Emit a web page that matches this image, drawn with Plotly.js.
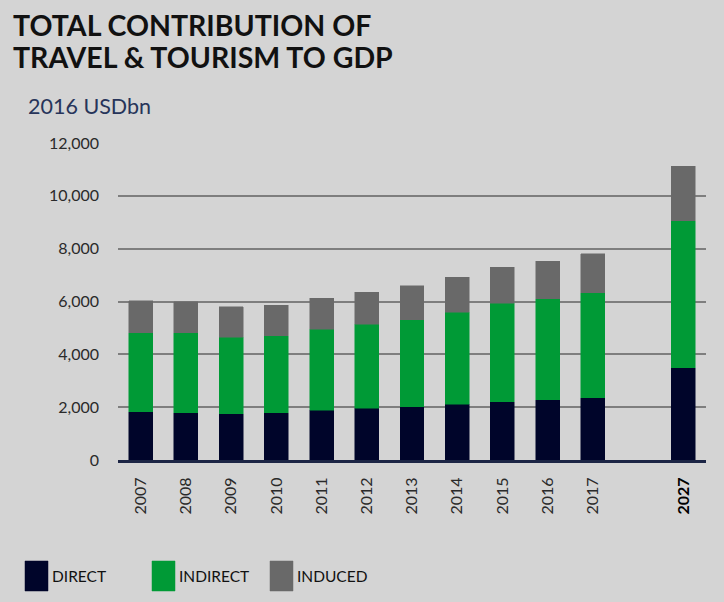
<!DOCTYPE html>
<html>
<head>
<meta charset="utf-8">
<script src="https://cdn.plot.ly/plotly-3.0.1.min.js"></script>
<style>
  html, body { margin: 0; padding: 0; background: #d4d4d4; }
  #chart { width: 724px; height: 602px; }
</style>
</head>
<body>
<div id="chart"></div>
<script>
// ---- data (2016 USD bn) ----
const years = ['2007','2008','2009','2010','2011','2012','2013','2014','2015','2016','2017','2027'];
const direct   = [1830, 1795, 1745, 1780, 1880, 1960, 2020, 2110, 2200, 2275, 2360, 3500];
const indirect = [2995, 3025, 2905, 2920, 3070, 3180, 3285, 3475, 3725, 3825, 3965, 5555];
const induced  = [1200, 1180, 1160, 1160, 1175, 1210, 1300, 1325, 1375, 1430, 1480, 2060];
const seriesNames  = ['DIRECT', 'INDIRECT', 'INDUCED'];
const seriesColors = ['#00052a', '#009a36', '#696969'];
const forecastYear = '2027';

// slot positions: forecast year separated by one empty slot
const xPos = years.map((y, i) => i + (y === forecastYear ? 1 : 0));
const tickText = years.map(y => y === forecastYear
  ? '<b><span style="color:#000">' + y + '</span></b>' : y);

const seriesData = [direct, indirect, induced];
const traces = seriesData.map((vals, k) => ({
  type: 'bar',
  name: seriesNames[k],
  x: xPos,
  y: vals,
  marker: { color: seriesColors[k], line: { color: seriesColors[k], width: 0.5 } },
  hovertemplate: '%{y:,}<extra>' + seriesNames[k] + '</extra>'
}));

// plot area in pixels
const M = { l: 118, r: 18, t: 143, b: 142 };
const W = 724, H = 602;
const pw = W - M.l - M.r, ph = H - M.t - M.b;
const px = v => (v - M.l) / pw;
const py = v => (H - M.b - v) / ph;

const annotations = [
  { text: 'TOTAL CONTRIBUTION OF', x: px(11), y: py(25), xanchor: 'left', yanchor: 'middle' },
  { text: 'TRAVEL &amp; TOURISM TO GDP', x: px(11), y: py(57), xanchor: 'left', yanchor: 'middle' }
].map(a => Object.assign(a, {
  xref: 'paper', yref: 'paper', showarrow: false,
  font: { family: 'Lato', size: 28.5, color: '#111111', weight: 'bold' }
}));
annotations.push({
  text: '2016 USDbn', x: px(26), y: py(106), xref: 'paper', yref: 'paper',
  xanchor: 'left', yanchor: 'middle', showarrow: false,
  font: { family: 'Lato', size: 21.5, color: '#27345a' }
});

// manual legend with large swatches
const legendX = [25, 152, 270];
const shapes = [];
seriesNames.forEach((n, k) => {
  shapes.push({
    type: 'rect', xref: 'paper', yref: 'paper',
    x0: px(legendX[k]), x1: px(legendX[k] + 23), y0: py(591), y1: py(561),
    fillcolor: seriesColors[k], line: { color: seriesColors[k], width: 0.5 }
  });
  annotations.push({
    text: n, xref: 'paper', yref: 'paper', x: px(legendX[k] + 25), y: py(576),
    xanchor: 'left', yanchor: 'middle', showarrow: false,
    font: { family: 'Lato', size: 15.5, color: '#111111' }
  });
});

const layout = {
  width: W, height: H,
  margin: M,
  paper_bgcolor: '#d4d4d4',
  plot_bgcolor: '#d4d4d4',
  barmode: 'stack',
  bargap: 0.47,
  showlegend: false,
  font: { family: 'Lato', color: '#2a2a2a', size: 16 },
  xaxis: {
    type: 'linear',
    range: [-0.5, 12.5],
    tickmode: 'array',
    tickvals: xPos,
    ticktext: tickText,
    tickangle: -90,
    ticklabelstandoff: 8,
    showgrid: false,
    zeroline: false,
    showline: true,
    linecolor: '#1c2545',
    linewidth: 3,
    ticks: '',
    tickfont: { family: 'Lato', size: 16, color: '#2a2a2a' },
    fixedrange: true
  },
  yaxis: {
    range: [0, 12000],
    dtick: 2000,
    tickformat: ',d',
    showgrid: true,
    gridcolor: '#7e7e7e',
    gridwidth: 2,
    zeroline: false,
    showline: false,
    ticks: '',
    ticklabelstandoff: 18,
    tickfont: { family: 'Lato', size: 16, color: '#2a2a2a' },
    fixedrange: true
  },
  annotations: annotations,
  shapes: shapes
};

Plotly.newPlot('chart', traces, layout, { displayModeBar: false, staticPlot: true });
</script>
</body>
</html>
